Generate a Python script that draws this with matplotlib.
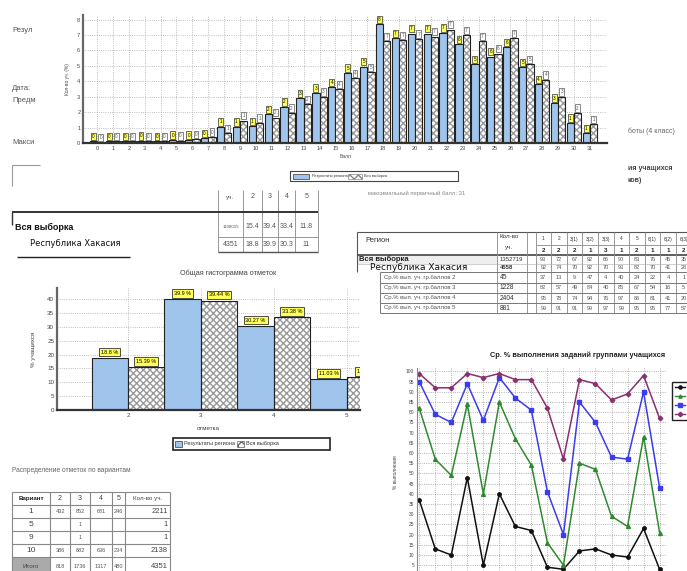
import matplotlib.pyplot as plt
from matplotlib.patches import Rectangle
import numpy as np

W, H = 687, 571
plt.rcParams['font.family'] = ['Liberation Sans', 'DejaVu Sans']

# --- data -------------------------------------------------------------
scores = list(range(32))
region_pct = [0.1, 0.1, 0.1, 0.15, 0.1, 0.2, 0.2, 0.3, 1.05, 1.05, 1.1, 1.85,
              2.35, 2.9, 3.25, 3.6, 4.55, 4.95, 7.7, 6.8, 7.1, 7.1, 7.15, 6.4,
              5.1, 5.6, 6.2, 4.9, 3.8, 2.6, 1.3, 0.65]
all_pct = [0.05, 0.1, 0.1, 0.1, 0.1, 0.15, 0.25, 0.4, 0.65, 1.45, 1.3, 1.65,
           1.95, 2.5, 3.0, 3.5, 4.2, 4.6, 6.6, 6.65, 6.75, 6.9, 7.35, 7.0,
           6.6, 5.8, 6.8, 5.1, 4.1, 3.0, 1.95, 1.2]

grades = [2, 3, 4, 5]
hist_region = [18.8, 39.9, 30.27, 11.03]
hist_all = [15.39, 39.44, 33.38, 11.8]
hist_region_lbl = ['18.8 %', '39.9 %', '30.27 %', '11.03 %']
hist_all_lbl = ['15.39 %', '39.44 %', '33.38 %', '11.8 %']

tasks = list(range(1, 17))
gr2 = [37, 13, 10, 48, 5, 40, 24, 22, 4, 3, 12, 13, 10, 9, 23, 3]
gr3 = [82, 57, 49, 84, 40, 85, 67, 54, 16, 5, 55, 52, 29, 24, 68, 21]
gr4 = [95, 79, 75, 94, 76, 97, 87, 81, 41, 20, 85, 75, 58, 57, 90, 43]
gr5 = [99, 92, 92, 99, 97, 99, 96, 96, 82, 57, 96, 94, 86, 89, 98, 77]

t1_head = ['уч.', '2', '3', '4', '5']
t1_all = ['1108015', '15.4', '39.4', '33.4', '11.8']
t1_reg = ['4351', '18.8', '39.9', '30.3', '11']

t2_cols = ['1', '2', '3(1)', '3(2)', '3(3)', '4', '5', '6(1)', '6(2)', '6(3)']
t2_max = ['2', '2', '2', '1', '3', '1', '2', '1', '1', '2']
t2_names = ['Вся выборка', 'Республика Хакасия', 'Ср.% вып. уч. гр.баллов 2',
            'Ср.% вып. уч. гр.баллов 3', 'Ср.% вып. уч. гр.баллов 4',
            'Ср.% вып. уч. гр.баллов 5']
t2_counts = ['1352719', '4558', '45', '1228', '2404', '881']
t2_vals = [[93, 72, 67, 92, 66, 90, 83, 76, 45, 35],
           [92, 74, 70, 92, 70, 93, 82, 70, 41, 28],
           [37, 13, 9, 47, 4, 40, 24, 22, 4, 1],
           [82, 57, 49, 84, 40, 85, 67, 54, 16, 5],
           [95, 78, 74, 94, 76, 97, 86, 81, 41, 20],
           [99, 91, 91, 99, 97, 99, 95, 95, 77, 57]]

t3_head = ['Вариант', '2', '3', '4', '5', 'Кол-во уч.']
t3_rows = [['1', '432', '852', '681', '246', '2211'],
           ['5', '', '1', '', '', '1'],
           ['9', '', '1', '', '', '1'],
           ['10', '386', '882', '636', '234', '2138'],
           ['Итого', '818', '1736', '1317', '480', '4351']]

BLUE = '#9fc5ec'
GRAY_T = '#555555'

fig = plt.figure(figsize=(W / 100, H / 100), dpi=100)


def px_axes(x0, y0, x1, y1):
    return fig.add_axes([x0 / W, 1 - y1 / H, (x1 - x0) / W, (y1 - y0) / H])


def style_axes(ax):
    for s in ['top', 'right']:
        ax.spines[s].set_visible(False)
    ax.spines['left'].set_color('#666666')
    ax.spines['left'].set_linewidth(1.6)
    ax.spines['bottom'].set_color('#333333')
    ax.spines['bottom'].set_linewidth(1.6)
    ax.grid(True, ls=':', color='#aaaaaa', lw=0.6)
    ax.set_axisbelow(True)
    ax.tick_params(length=0, colors='#444444', pad=2)


def draw_bars(ax, xs, reg, allv, w):
    ax.bar(np.array(xs) - w / 2, reg, width=w, color=BLUE, edgecolor='#222222', lw=0.8)
    ax.bar(np.array(xs) + w / 2, allv, width=w, color='white', edgecolor='#999999',
           hatch='xxxxx', lw=0)
    ax.bar(np.array(xs) + w / 2, allv, width=w, color='none', edgecolor='#222222', lw=0.8)


# --- top chart: distribution of scores ---------------------------------
ax1 = px_axes(83, 15, 607, 143)
w1 = 0.46
draw_bars(ax1, scores, region_pct, all_pct, w1)
ax1.set_xlim(-0.88, 32.08)
ax1.set_ylim(0, 8.3)
ax1.set_xticks(scores)
ax1.set_yticks(range(9))
ax1.tick_params(labelsize=4)
style_axes(ax1)
for x, r, a in zip(scores, region_pct, all_pct):
    ax1.text(x - w1 / 2, r + 0.15, str(int(round(r))), ha='center', va='bottom', fontsize=3.3,
             bbox=dict(boxstyle='square,pad=0.25', fc='#ffff55', ec='#333333', lw=0.5))
    ax1.text(x + w1 / 2, a + 0.15, str(int(round(a))), ha='center', va='bottom', fontsize=3.3,
             color='#555555',
             bbox=dict(boxstyle='square,pad=0.25', fc='white', ec='#555555', lw=0.5))
ax1.set_xlabel('Балл', fontsize=3.5, labelpad=2, color='#444444')
ax1.set_ylabel('Кол-во уч. (%)', fontsize=3.5, labelpad=5, color='#444444')

# --- histogram of grades -------------------------------------------------
ax2 = px_axes(57, 288, 360, 410)
w2 = 0.5
draw_bars(ax2, grades, hist_region, hist_all, w2)
ax2.set_xlim(1.027, 5.18)
ax2.set_ylim(0, 44)
ax2.set_xticks(grades)
ax2.set_yticks(range(0, 45, 5))
ax2.tick_params(labelsize=4.5)
style_axes(ax2)
for x, r, a, lr, la in zip(grades, hist_region, hist_all, hist_region_lbl, hist_all_lbl):
    for xx, v, l in [(x - w2 / 2, r, lr), (x + w2 / 2, a, la)]:
        ax2.text(xx, v + 1.2, l, ha='center', va='bottom', fontsize=4,
                 bbox=dict(boxstyle='square,pad=0.3', fc='#ffff55', ec='#333333', lw=0.6),
                 clip_on=True)
ax2.set_xlabel('отметка', fontsize=4.5, labelpad=6, color='#444444')
ax2.set_ylabel('% учащихся', fontsize=4.5, labelpad=8, color='#444444')

# --- line chart by groups ----------------------------------------------
ax3 = px_axes(417, 368, 666, 575.4)
ax3.plot(tasks, gr2, color='#111111', marker='o', ms=2.5, lw=1.1)
ax3.plot(tasks, gr3, color='#2f8a2f', marker='^', ms=2.8, lw=1.1)
ax3.plot(tasks, gr4, color='#3b3bf0', marker='s', ms=2.3, lw=1.1)
ax3.plot(tasks, gr5, color='#8a2f70', marker='D', ms=2.3, lw=1.1)
ax3.set_xlim(0.86, 16.4)
ax3.set_ylim(0, 101.7)
ax3.set_xticks(tasks)
ax3.set_xticklabels([])
ax3.set_yticks(range(5, 101, 5))
ax3.tick_params(labelsize=3.5, length=0, pad=2, colors='#444444')
for s in ['top', 'right']:
    ax3.spines[s].set_visible(False)
ax3.spines['left'].set_color('#888888')
ax3.spines['bottom'].set_visible(False)
ax3.grid(True, ls=':', color='#999999', lw=0.6)
ax3.set_ylabel('% выполнения', fontsize=3.5, labelpad=6, color='#444444')

# --- overlay for text and tables ----------------------------------------
ov = fig.add_axes([0, 0, 1, 1], zorder=-1)
ov.set_xlim(0, W)
ov.set_ylim(H, 0)
ov.axis('off')


def T(x, y, s, size=5, color=GRAY_T, **kw):
    ov.text(x, y, s, fontsize=size, color=color, va='center', **kw)


def L(x0, y0, x1, y1, lw=0.6, color='#777777'):
    ov.plot([x0, x1], [y0, y1], color=color, lw=lw, solid_capstyle='butt')


# left cut-off header text
T(12, 30, 'Резул', 5.5)
T(12, 88, 'Дата:', 5.5)
T(12, 100, 'Предм', 5.5)
T(12, 143, 'Макси', 5.5)
T(628, 131, 'боты (4 класс)', 5, '#666666')
T(628, 168, 'ия учащихся', 5, '#444444', fontweight='bold')
T(628, 181, 'ков)', 5, '#444444', fontweight='bold')
T(368, 193, 'максимальный первичный балл: 31', 4.2, '#888888')

# top chart legend
ov.add_patch(Rectangle((290, 171), 168, 10, fc='white', ec='#444444', lw=0.8))
ov.add_patch(Rectangle((293, 173.5), 16, 5, fc=BLUE, ec='#333333', lw=0.5))
T(312, 176, 'Результаты региона', 2.8, '#333333')
ov.add_patch(Rectangle((348, 173.5), 14, 5, fc='white', ec='#888888', hatch='xxxx', lw=0.5))
T(364, 176, 'Вся выборка', 2.8, '#333333')

# table 1
L(12, 165, 40, 165, 0.8, '#999999')
L(12, 165, 12, 186, 0.8, '#999999')
t1_x = [218, 243, 262, 278, 295, 318]
for x in t1_x:
    L(x, 190, x, 252, 0.6, '#888888')
L(12, 212, 318, 212, 1.4, '#333333')
L(12, 212, 12, 225, 1.0, '#333333')
L(218, 237, 318, 237, 0.6, '#888888')
L(218, 252, 318, 252, 1.0, '#555555')
L(17, 257, 130, 257, 1.0, '#222222')
for i, h in enumerate(t1_head):
    c = (t1_x[i] + t1_x[i + 1]) / 2
    T(c, 197, h, 4.5 if i == 0 else 5, ha='center')
    T(c, 227, t1_all[i], 3.2 if i == 0 else 5, ha='center')
    T(c, 244, t1_reg[i], 5, ha='center')
T(15, 227, 'Вся выборка', 6.5, '#111111', fontweight='bold')
T(30, 244, 'Республика Хакасия', 6, '#111111', family='DejaVu Sans')

# histogram title and legend
T(180, 273, 'Общая гистограмма отметок', 5.2, '#444444')
ov.add_patch(Rectangle((173, 438), 157, 12, fc='white', ec='#222222', lw=1.2))
ov.add_patch(Rectangle((175, 441), 7, 6, fc=BLUE, ec='#333333', lw=0.5))
T(184, 444, 'Результаты региона', 4, '#333333')
ov.add_patch(Rectangle((237, 441), 7, 6, fc='white', ec='#666666', hatch='xxxx', lw=0.5))
T(246, 444, 'Вся выборка', 4, '#333333')

# table 2
col_sep = [535.5 + k * 15.6 for k in range(11)]
ov.add_patch(Rectangle((357, 255), 140, 8.5, fc='#eeeeee', ec='none'))
L(357, 232, 687, 232, 0.8, '#555555')
L(357, 232, 357, 272, 0.8, '#555555')
L(357, 255, 687, 255, 1.2, '#444444')
for x in [497, 527] + col_sep:
    L(x, 232, x, 313, 0.6, '#888888')
L(535.5, 245, 687, 245, 0.6, '#888888')
row_y = [255, 263.5, 272, 282.5, 293, 303, 313]
for y in row_y[2:]:
    L(380, y, 687, y, 0.7, '#777777')
L(357, 263.5, 687, 263.5, 0.4, '#aaaaaa')
L(380, 272, 380, 313, 0.7, '#777777')
T(365, 241, 'Регион', 5.5, '#333333')
T(500, 237, 'Кол-во', 4.5, '#333333')
T(505, 247, 'уч.', 4.5, '#333333')
for k, (c, m) in enumerate(zip(t2_cols, t2_max)):
    cx = col_sep[0] + 7.8 + k * 15.6
    T(cx, 239, c, 3.5, '#333333', ha='center')
    T(cx, 250, m, 4.5, '#222222', ha='center', fontweight='bold')
for r, (name, cnt, vals) in enumerate(zip(t2_names, t2_counts, t2_vals)):
    y = (row_y[r] + row_y[r + 1]) / 2
    if r == 0:
        T(359, y, name, 5.5, '#222222', fontweight='bold')
    elif r == 1:
        T(370, y, name, 6.5, '#111111', family='DejaVu Sans')
    else:
        T(384, y, name, 4.3, '#555555')
    T(500, y, cnt, 4.8 if r > 1 else 4.3, '#333333',
      fontweight='bold' if r == 1 else 'normal')
    for k, v in enumerate(vals):
        T(col_sep[0] + 7.8 + k * 15.6, y, str(v), 4, '#555555', ha='center')

# line chart title and legend
T(490, 355, 'Ср. % выполнения заданий группами учащихся', 5.3, '#222222', fontweight='bold')
ov.add_patch(Rectangle((672, 382), 20, 38, fc='white', ec='#222222', lw=1.0))
for i, (c, m) in enumerate([('#111111', 'o'), ('#2f8a2f', '^'),
                            ('#3b3bf0', 's'), ('#8a2f70', 'D')]):
    yy = 387 + i * 9
    ov.plot([675, 685], [yy, yy], color=c, lw=1)
    ov.plot([680], [yy], color=c, marker=m, ms=2.3)

# table 3
T(12, 470, 'Распределение отметок по вариантам', 4.8, '#666666')
t3_x = [12, 50, 70, 90, 112, 125, 170]
t3_y = [492, 505, 518, 531, 544, 557, 575]
ov.add_patch(Rectangle((12, 557), 38, 18, fc='#aaaaaa', ec='none'))
for x in t3_x:
    L(x, 492, x, 575, 0.8, '#888888')
for y in t3_y[:-1]:
    L(12, y, 170, y, 0.8, '#888888')
for i, h in enumerate(t3_head):
    c = (t3_x[i] + t3_x[i + 1]) / 2
    T(c, 498.5, h, 4.5 if i in (0, 5) else 5, '#222222' if i == 0 else '#444444',
      ha='center', fontweight='bold' if i == 0 else 'normal')
for r, row in enumerate(t3_rows):
    y = (t3_y[r + 1] + t3_y[r + 2]) / 2
    for i, v in enumerate(row):
        if i == 0:
            T(31, y, v, 6 if r < 4 else 4.5, '#444444', ha='center')
        elif i == 5:
            T(168, y, v, 5.5, '#444444', ha='right')
        else:
            T((t3_x[i] + t3_x[i + 1]) / 2, y, v, 4, '#555555', ha='center')

fig.savefig('out.png', dpi=100)
